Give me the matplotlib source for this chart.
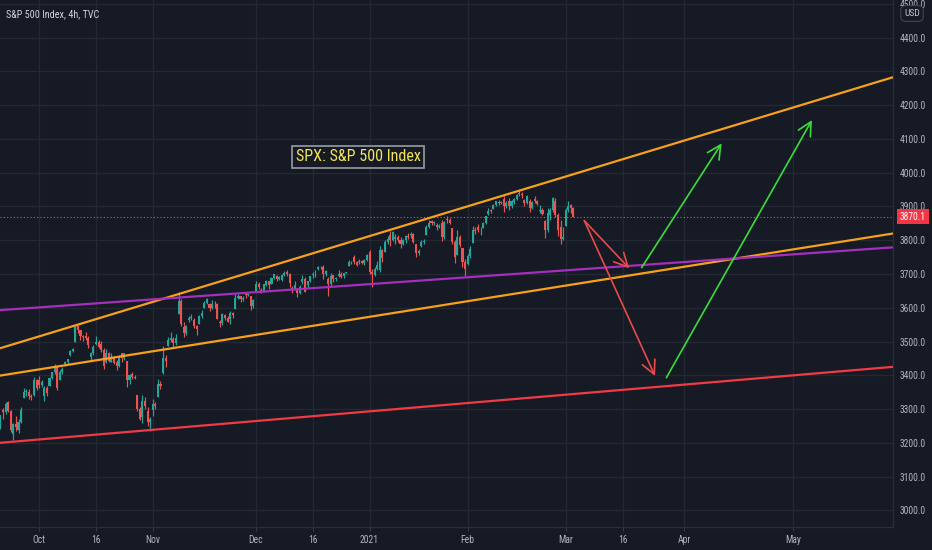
import numpy as np
import matplotlib
matplotlib.use("Agg")
import matplotlib.pyplot as plt
from matplotlib import font_manager as fm
from matplotlib.transforms import blended_transform_factory

# ---------------- data (4h candles, two per trading day, Sep 21 2020 .. Mar 2 2021) -------------
opens = [
    3286, 3245, 3296, 3290, 3320, 3295, 3226, 3255, 3237, 3262,
    3334, 3350, 3351, 3338, 3341, 3385, 3386, 3372, 3339, 3362,
    3367, 3392, 3409, 3425, 3385, 3410, 3434, 3438, 3460, 3472,
    3500, 3545, 3534, 3515, 3515, 3510, 3454, 3465, 3494, 3500,
    3494, 3475, 3439, 3465, 3440, 3450, 3439, 3428, 3465, 3450,
    3441, 3385, 3403, 3395, 3342, 3300, 3277, 3325, 3294, 3262,
    3296, 3315, 3336, 3375, 3406, 3450, 3486, 3505, 3508, 3495,
    3583, 3620, 3543, 3525, 3563, 3570, 3563, 3545, 3553, 3575,
    3600, 3615, 3610, 3598, 3612, 3610, 3559, 3555, 3579, 3570,
    3567, 3585, 3595, 3630, 3636, 3625, 3639, 3638,
    3634, 3605, 3646, 3670, 3654, 3650, 3668, 3678, 3671, 3688,
    3695, 3685, 3683, 3698, 3706, 3700, 3659, 3655, 3656, 3645,
    3675, 3685, 3666, 3678, 3696, 3700, 3714, 3720, 3722, 3700,
    3684, 3670, 3698, 3685, 3693, 3700, 3694, 3703,
    3723, 3735, 3750, 3735, 3736, 3738, 3733, 3742,
    3765, 3705, 3698, 3715, 3712, 3770, 3765, 3795, 3815, 3800,
    3803, 3810, 3802, 3790, 3802, 3812, 3815, 3818, 3789, 3762,
    3782, 3795, 3816, 3840, 3857, 3850, 3844, 3838,
    3852, 3810, 3863, 3860, 3837, 3795, 3756, 3810, 3778, 3735,
    3731, 3752, 3792, 3830, 3840, 3830, 3837, 3852, 3878, 3888,
    3893, 3905, 3910, 3912, 3921, 3900, 3916, 3900, 3912, 3922,
    3940, 3938, 3919, 3910, 3916, 3895, 3921, 3915,
    3886, 3890, 3857, 3830, 3874, 3890, 3916, 3875, 3840, 3805,
    3843, 3890, 3904, 3895,
]
highs = [
    3286, 3283, 3302, 3320, 3323, 3298, 3260, 3279, 3270, 3307,
    3361, 3358, 3358, 3345, 3394, 3390, 3397, 3385, 3369, 3367,
    3395, 3410, 3432, 3428, 3415, 3426, 3442, 3447, 3475, 3482,
    3550, 3548, 3534, 3520, 3528, 3515, 3470, 3489, 3516, 3505,
    3502, 3480, 3477, 3470, 3465, 3458, 3445, 3461, 3466, 3466,
    3441, 3405, 3410, 3402, 3342, 3305, 3341, 3335, 3305, 3275,
    3330, 3322, 3389, 3382, 3486, 3460, 3512, 3529, 3512, 3522,
    3646, 3625, 3557, 3548, 3575, 3581, 3569, 3550, 3580, 3594,
    3620, 3629, 3615, 3623, 3619, 3614, 3565, 3585, 3581, 3575,
    3590, 3588, 3642, 3640, 3636, 3634, 3644, 3640,
    3634, 3625, 3678, 3675, 3660, 3671, 3683, 3680, 3690, 3699,
    3697, 3694, 3700, 3708, 3712, 3703, 3665, 3678, 3660, 3666,
    3698, 3690, 3680, 3695, 3705, 3711, 3725, 3724, 3727, 3712,
    3690, 3703, 3698, 3692, 3711, 3705, 3704, 3704,
    3741, 3740, 3756, 3738, 3745, 3742, 3745, 3760,
    3770, 3715, 3720, 3738, 3783, 3775, 3800, 3812, 3827, 3826,
    3818, 3815, 3811, 3805, 3815, 3821, 3824, 3822, 3789, 3775,
    3800, 3805, 3845, 3860, 3861, 3858, 3852, 3848,
    3859, 3857, 3871, 3865, 3837, 3800, 3831, 3815, 3778, 3745,
    3760, 3784, 3843, 3838, 3848, 3838, 3855, 3872, 3895, 3893,
    3908, 3916, 3918, 3916, 3932, 3915, 3926, 3918, 3925, 3937,
    3950, 3942, 3922, 3934, 3922, 3916, 3930, 3920,
    3903, 3895, 3860, 3896, 3895, 3929, 3925, 3880, 3861, 3840,
    3895, 3915, 3906, 3898,
]
lows = [
    3229, 3240, 3271, 3285, 3290, 3233, 3209, 3235, 3228, 3258,
    3333, 3340, 3330, 3328, 3340, 3355, 3361, 3365, 3324, 3340,
    3367, 3388, 3405, 3355, 3385, 3405, 3428, 3432, 3458, 3468,
    3500, 3525, 3505, 3501, 3505, 3481, 3441, 3460, 3490, 3480,
    3470, 3420, 3436, 3440, 3438, 3433, 3415, 3425, 3440, 3446,
    3365, 3375, 3389, 3390, 3295, 3269, 3260, 3300, 3250, 3234,
    3280, 3300, 3336, 3360, 3405, 3425, 3486, 3500, 3484, 3490,
    3583, 3547, 3512, 3520, 3557, 3565, 3540, 3519, 3553, 3570,
    3600, 3612, 3589, 3595, 3600, 3567, 3544, 3550, 3565, 3557,
    3553, 3570, 3595, 3625, 3618, 3620, 3629, 3636,
    3594, 3600, 3646, 3655, 3645, 3648, 3665, 3657, 3671, 3684,
    3679, 3682, 3679, 3694, 3695, 3661, 3645, 3652, 3633, 3642,
    3670, 3646, 3660, 3675, 3689, 3692, 3711, 3716, 3686, 3695,
    3636, 3665, 3676, 3680, 3690, 3689, 3689, 3701,
    3723, 3730, 3730, 3723, 3730, 3731, 3727, 3740,
    3700, 3663, 3695, 3712, 3705, 3735, 3765, 3790, 3784, 3798,
    3789, 3795, 3777, 3785, 3792, 3805, 3808, 3793, 3750, 3755,
    3780, 3790, 3816, 3835, 3845, 3846, 3830, 3835,
    3797, 3805, 3850, 3848, 3790, 3732, 3756, 3780, 3720, 3694,
    3726, 3748, 3792, 3820, 3825, 3817, 3837, 3848, 3875, 3880,
    3893, 3902, 3903, 3906, 3885, 3895, 3890, 3897, 3906, 3920,
    3930, 3924, 3900, 3908, 3885, 3892, 3910, 3903,
    3880, 3875, 3806, 3825, 3860, 3885, 3870, 3814, 3790, 3800,
    3843, 3885, 3880, 3869,
]
closes = [
    3245, 3281, 3290, 3316, 3295, 3237, 3255, 3247, 3262, 3298,
    3350, 3352, 3338, 3335, 3385, 3363, 3372, 3381, 3362, 3348,
    3392, 3409, 3425, 3361, 3410, 3419, 3438, 3447, 3472, 3477,
    3545, 3534, 3515, 3512, 3510, 3489, 3465, 3483, 3500, 3484,
    3475, 3427, 3465, 3443, 3450, 3436, 3428, 3453, 3450, 3465,
    3385, 3401, 3395, 3391, 3300, 3271, 3325, 3310, 3262, 3270,
    3315, 3310, 3375, 3369, 3450, 3443, 3505, 3510, 3495, 3509,
    3620, 3551, 3525, 3546, 3570, 3573, 3545, 3537, 3575, 3585,
    3615, 3627, 3598, 3610, 3610, 3568, 3555, 3582, 3570, 3558,
    3585, 3578, 3630, 3635, 3625, 3630, 3638, 3638,
    3605, 3622, 3670, 3662, 3650, 3669, 3678, 3667, 3688, 3699,
    3685, 3692, 3698, 3702, 3700, 3673, 3655, 3668, 3645, 3663,
    3685, 3647, 3678, 3695, 3700, 3701, 3720, 3722, 3700, 3709,
    3670, 3695, 3685, 3687, 3700, 3690, 3703, 3703,
    3735, 3735, 3735, 3727, 3738, 3732, 3742, 3756,
    3705, 3701, 3715, 3727, 3770, 3748, 3795, 3804, 3800, 3825,
    3810, 3800, 3790, 3801, 3812, 3810, 3818, 3796, 3762, 3768,
    3795, 3799, 3840, 3852, 3850, 3853, 3838, 3841,
    3810, 3855, 3860, 3850, 3795, 3751, 3810, 3787, 3735, 3714,
    3752, 3774, 3830, 3826, 3830, 3830, 3852, 3872, 3888, 3887,
    3905, 3916, 3912, 3911, 3900, 3910, 3900, 3916, 3922, 3935,
    3938, 3933, 3910, 3931, 3895, 3914, 3915, 3907,
    3890, 3877, 3830, 3881, 3890, 3925, 3875, 3829, 3805, 3811,
    3890, 3902, 3895, 3870,
]
first_day_index = -8          # Sep 21 2020, counted in trading days from Oct 1 2020
bars_per_day = 2
last_price = 3870.1

# time axis: trading-day index of each label
tick_days = [0, 11, 22, 42, 53, 64, 83, 102, 113, 125, 146]
tick_labels = ["Oct", "16", "Nov", "Dec", "16", "2021", "Feb", "Mar", "16", "Apr", "May"]
price_ticks = list(range(3000, 4501, 100))

# drawn trend lines: prices at the left / right edge days
line_days = [-7.6, 165.4]
upper_wedge = [3480, 4283]
lower_wedge = [3399, 3820]
purple_line = [3593, 3779]
support_line = [3200, 3425]

# projection arrows (start day, start price, end day, end price)
red_arrows = [(105.6, 3858, 114.3, 3717), (105.6, 3858, 119.3, 3398)]
green_arrows = [(116.7, 3719, 132.2, 4087), (121.5, 3393, 149.7, 4156)]

# ---------------- style ----------------
names = {f.name for f in fm.fontManager.ttflist}
if "Liberation Sans Narrow" in names:
    FONT, SC = "Liberation Sans Narrow", 1.0
elif "Roboto Condensed" in names:
    FONT, SC = "Roboto Condensed", 0.95
else:
    FONT, SC = "DejaVu Sans", 0.8
plt.rcParams["font.family"] = [FONT, "DejaVu Sans"]

BG = "#161a25"
GRID = "#242833"
TXT = "#b2b5be"
UP = "#26a69a"
DN = "#ef5350"
ORANGE = "#f7a01c"
PURPLE = "#a42fbd"
REDLINE = "#f03a45"
GREEN = "#3bdc3b"

W, H = 932, 550
fig = plt.figure(figsize=(W / 100, H / 100), dpi=100, facecolor=BG)
ax = fig.add_axes([0, 23 / H, 893 / W, 527 / H], facecolor=BG)
ax.set_xlim(-7.59, 165.4)
ax.set_ylim(2950.6, 4511.7)

o = np.array(opens, float); h = np.array(highs, float)
l = np.array(lows, float); c = np.array(closes, float)
assert len(o) == len(h) == len(l) == len(c)
x = np.arange(len(o)) / bars_per_day + first_day_index
cols = np.where(c >= o, UP, DN)

ax.vlines(x, l, h, colors=cols, lw=0.85, zorder=3)
body_low = np.minimum(o, c)
body_h = np.maximum(np.abs(c - o), 1.5)
ax.bar(x, body_h, bottom=body_low, width=0.4, color=cols, linewidth=0, zorder=4)

# grid
ax.set_yticks(price_ticks)
ax.set_yticklabels([f"{v:.1f}" for v in price_ticks])
ax.set_xticks(tick_days)
ax.set_xticklabels(tick_labels)
ax.grid(True, color=GRID, lw=1.0, zorder=0)
ax.set_axisbelow(True)
ax.yaxis.tick_right()
ax.tick_params(axis="y", length=0, pad=5, labelsize=7.3 * SC, labelcolor=TXT)
ax.tick_params(axis="x", length=3, width=0.8, color="#363a45", pad=3,
               labelsize=7.3 * SC, labelcolor=TXT)
for s in ("top", "left"):
    ax.spines[s].set_visible(False)
for s in ("bottom", "right"):
    ax.spines[s].set_color("#2a2e39")
    ax.spines[s].set_linewidth(1.0)

# trend lines
ax.plot(line_days, upper_wedge, color=ORANGE, lw=1.6, zorder=5, solid_capstyle="butt")
ax.plot(line_days, lower_wedge, color=ORANGE, lw=1.6, zorder=5, solid_capstyle="butt")
ax.plot(line_days, purple_line, color=PURPLE, lw=1.6, zorder=5, solid_capstyle="butt")
ax.plot(line_days, support_line, color=REDLINE, lw=1.6, zorder=5, solid_capstyle="butt")

# last price line
ax.axhline(last_price, color=DN, lw=0.8, ls=(0, (1, 2)), zorder=2)

# arrows
for x0, y0, x1, y1 in red_arrows:
    ax.annotate("", xy=(x1, y1), xytext=(x0, y0),
                arrowprops=dict(arrowstyle="->,head_length=0.75,head_width=0.38",
                                color="#ea4a4a", lw=1.2, shrinkA=0, shrinkB=0,
                                mutation_scale=13), zorder=6)
for x0, y0, x1, y1 in green_arrows:
    ax.annotate("", xy=(x1, y1), xytext=(x0, y0),
                arrowprops=dict(arrowstyle="->,head_length=0.75,head_width=0.38",
                                color=GREEN, lw=1.2, shrinkA=0, shrinkB=0,
                                mutation_scale=13), zorder=6)

# annotation box
ax.text(61.8, 4047, "SPX: S&P 500 Index", ha="center", va="center",
        fontsize=12.2 * SC, color="#f2e35a", zorder=7,
        bbox=dict(boxstyle="square,pad=0.22", fc=BG, ec="#8f929b", lw=1.3))

# last price label on axis
tr = blended_transform_factory(ax.transAxes, ax.transData)
ax.text(1.0 + 7 / 893, last_price, f"{last_price:.1f}", transform=tr, ha="left",
        va="center", fontsize=7.3 * SC, color="white", clip_on=False, zorder=8,
        bbox=dict(boxstyle="square,pad=0.3", fc="#f23645", ec="none"))

# title and currency box
fig.text(6 / W, 1 - 14 / H, "S&P 500 Index, 4h, TVC", ha="left", va="center",
         fontsize=7.7 * SC, color="#d1d4dc")
fig.text(912 / W, 1 - 13.5 / H, "USD", ha="center", va="center",
         fontsize=7.2 * SC, color="#c3c6ce", zorder=10,
         bbox=dict(boxstyle="round,pad=0.35,rounding_size=0.5", fc=BG, ec="#434651", lw=0.8))

fig.savefig("out.png", dpi=100, facecolor=BG)
